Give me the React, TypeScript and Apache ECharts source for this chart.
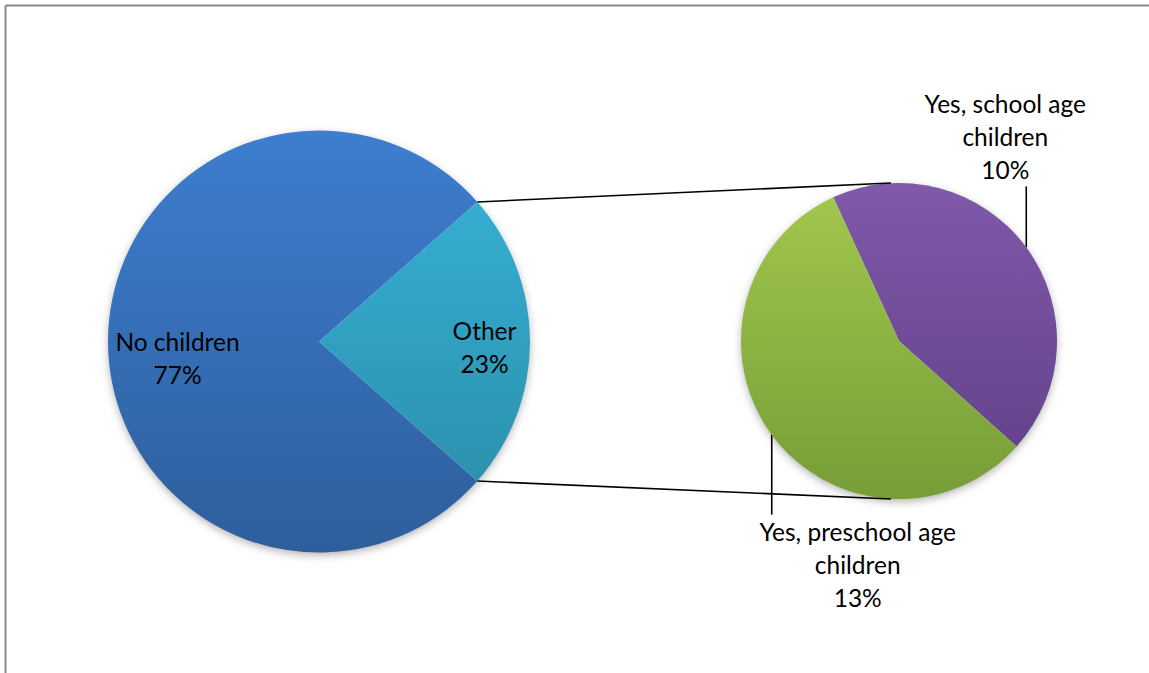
import React, { useEffect, useRef } from "react";
import * as echarts from "echarts";

// ---- data ----
const mainNames = ["Other", "No children"];
const mainValues = [23, 77];
const subNames = ["Yes, school age\nchildren", "Yes, preschool age\nchildren"];
const subValues = [10, 13];

// ---- layout / style ----
const W = 1149;
const H = 673;
const C1: [number, number] = [319, 341.5];
const R1 = 211;
const C2: [number, number] = [899, 341];
const R2 = 158;
const SUB_START = 114.6;
const FONT = "Lato, 'Noto Sans', sans-serif";

export default function App() {
  const ref = useRef<HTMLDivElement>(null);

  useEffect(() => {
    const chart = echarts.init(ref.current!, null, { renderer: "svg" });

    const total = mainValues.reduce((a, b) => a + b, 0);
    const half = (mainValues[0] / total) * 180;
    const rad = (half * Math.PI) / 180;
    const p1 = [C1[0] + R1 * Math.cos(rad), C1[1] - R1 * Math.sin(rad)];
    const p2 = [C1[0] + R1 * Math.cos(rad), C1[1] + R1 * Math.sin(rad)];
    const q1 = [C2[0] - 8, C2[1] - R2];
    const q2 = [C2[0] - 8, C2[1] + R2];

    const grad = (c: number[], r: number, top: string, bottom: string) =>
      new echarts.graphic.LinearGradient(
        0, c[1] - r, 0, c[1] + r,
        [
          { offset: 0, color: top },
          { offset: 1, color: bottom },
        ],
        true
      );

    const subTotal = subValues.reduce((a, b) => a + b, 0);
    const subMid = (i: number) => {
      let before = 0;
      for (let k = 0; k < i; k++) before += subValues[k];
      const midFrac = (before + subValues[i] / 2) / subTotal;
      const ang = ((SUB_START - midFrac * 360) * Math.PI) / 180;
      return [C2[0] + R2 * Math.cos(ang), C2[1] - R2 * Math.sin(ang)];
    };

    const labelBase = {
      color: "#000",
      fontSize: 24.5,
      lineHeight: 33,
      fontFamily: FONT,
      formatter: "{b}\n{c}%",
    };

    const mainColors = [
      grad(C1, R1, "#37b4d9", "#2a8ba7"),
      grad(C1, R1, "#3d7ecf", "#2e5e9c"),
    ];
    const mainOffsets = [
      [57, 5],
      [-33, 16],
    ];
    const subColors = [
      grad(C2, R2, "#8059aa", "#5f3f86"),
      grad(C2, R2, "#a2c84d", "#769d37"),
    ];

    chart.setOption({
      animation: false,
      backgroundColor: "#fff",
      graphic: [
        { type: "line", shape: { x1: 5.5, y1: 5.5, x2: 5.5, y2: H }, style: { stroke: "#8a8a8a", lineWidth: 2 } },
        { type: "line", shape: { x1: 5.5, y1: 5.5, x2: W, y2: 5.5 }, style: { stroke: "#8a8a8a", lineWidth: 2 } },
        {
          type: "circle", z: -1, shape: { cx: C1[0], cy: C1[1], r: R1 - 1 },
          style: { fill: "#fff", shadowBlur: 10, shadowOffsetY: 3, shadowColor: "rgba(0,0,0,0.35)" },
        },
        {
          type: "circle", z: -1, shape: { cx: C2[0], cy: C2[1], r: R2 - 1 },
          style: { fill: "#fff", shadowBlur: 10, shadowOffsetY: 3, shadowColor: "rgba(0,0,0,0.35)" },
        },
        { type: "line", z: 10, shape: { x1: p1[0], y1: p1[1], x2: q1[0], y2: q1[1] }, style: { stroke: "#000", lineWidth: 1.6 } },
        { type: "line", z: 10, shape: { x1: p2[0], y1: p2[1], x2: q2[0], y2: q2[1] }, style: { stroke: "#000", lineWidth: 1.6 } },
      ],
      series: [
        {
          type: "pie",
          center: C1,
          radius: [0, R1],
          startAngle: half,
          clockwise: true,
          silent: true,
          label: { ...labelBase, position: "inside" },
          labelLine: { show: false },
          data: mainNames.map((n, i) => ({
            name: n,
            value: mainValues[i],
            itemStyle: { color: mainColors[i] },
            label: { offset: mainOffsets[i] },
          })),
        },
        {
          type: "pie",
          center: C2,
          radius: [0, R2],
          startAngle: SUB_START,
          clockwise: true,
          silent: true,
          label: { ...labelBase, position: "outside", align: "center", width: 320, overflow: "none" },
          labelLine: { show: true, lineStyle: { color: "#000", width: 1.6 } },
          labelLayout: (params: any) => {
            if (params.seriesIndex !== 1) return {};
            const [x0, y0] = subMid(params.dataIndex);
            if (params.dataIndex === 0) {
              const yEnd = y0 - 61;
              return {
                x: x0 - 21,
                y: yEnd,
                align: "center",
                verticalAlign: "bottom",
                labelLinePoints: [[x0, y0], [x0, yEnd], [x0, yEnd]],
              };
            }
            const yEnd = y0 + 80;
            return {
              x: x0 + 86,
              y: yEnd,
              align: "center",
              verticalAlign: "top",
              labelLinePoints: [[x0, y0], [x0, yEnd], [x0, yEnd]],
            };
          },
          data: subNames.map((n, i) => ({
            name: n,
            value: subValues[i],
            itemStyle: { color: subColors[i] },
          })),
        },
      ],
    });

    return () => chart.dispose();
  }, []);

  return (
    <div
      ref={ref}
      style={{ position: "fixed", left: 0, top: 0, width: W, height: H, background: "#fff" }}
    />
  );
}
